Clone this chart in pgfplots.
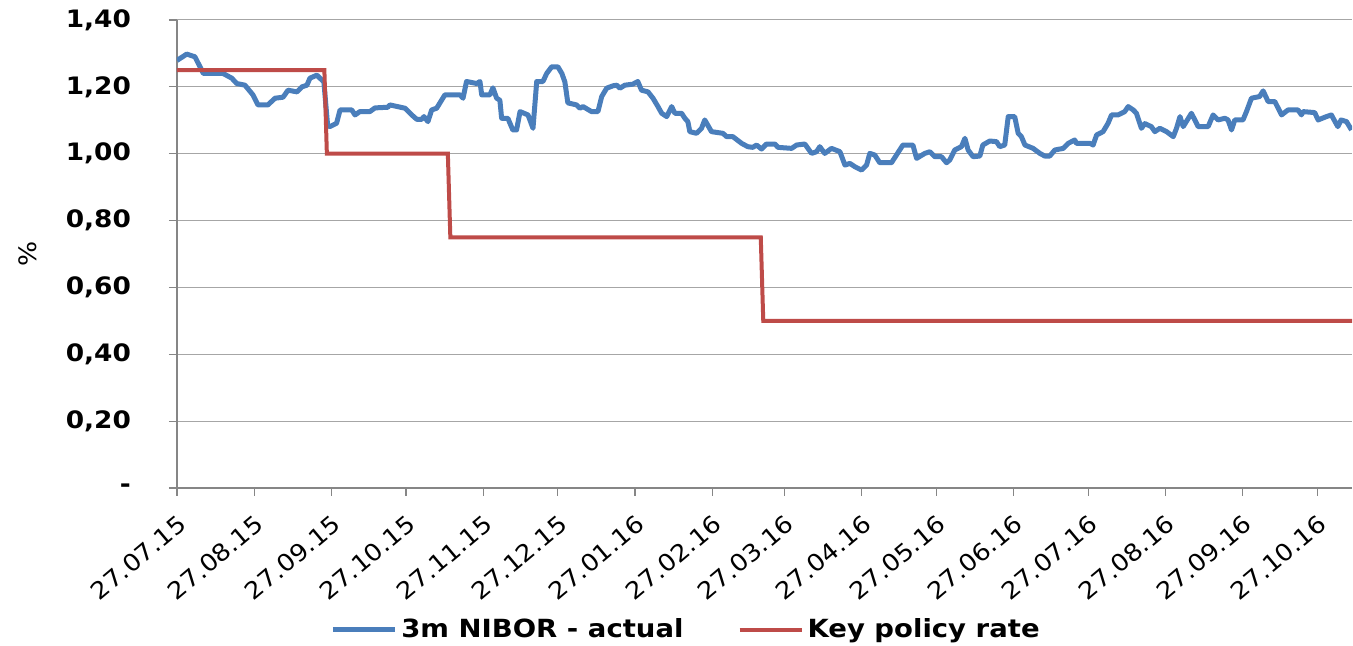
\documentclass[border=0pt]{standalone}
\usepackage{pgfplots}
\pgfplotsset{compat=1.18}
\usepackage{fontspec}
\setmainfont[FakeStretch=1.1]{DejaVu Sans}
\definecolor{nibor}{HTML}{4A7EBB}
\definecolor{keyrate}{HTML}{BE4B48}
\definecolor{gridc}{HTML}{A6A6A6}
\definecolor{axc}{HTML}{868686}
\begin{document}
\begin{tikzpicture}
\path[use as bounding box] (-88.5pt,-79pt) rectangle (588pt,244pt);
\begin{axis}[
  at={(0,0)}, anchor=south west,
  scale only axis, width=587.5pt, height=234pt,
  xmin=0, xmax=472, ymin=0, ymax=1.4,
  axis x line*=bottom, axis y line*=left,
  axis line style={axc, line width=0.6pt},
  tick align=outside, major tick length=4pt,
  tick style={axc, line width=0.6pt},
  xtick={0,31,62,92,123,153,184,215,244,275,305,336,366,397,428,458},
  xticklabels={27.07.15,27.08.15,27.09.15,27.10.15,27.11.15,27.12.15,27.01.16,27.02.16,27.03.16,27.04.16,27.05.16,27.06.16,27.07.16,27.08.16,27.09.16,27.10.16},
  xticklabel style={font=\fontsize{11.8}{14}\selectfont, xshift=5.5pt, yshift=-10pt, rotate=40, anchor=east},
  ytick={0,0.2,0.4,0.6,0.8,1.0,1.2,1.4},
  yticklabels={-,{0,20},{0,40},{0,60},{0,80},{1,00},{1,20},{1,40}},
  yticklabel style={font=\bfseries\fontsize{12}{14}\selectfont, anchor=east, xshift=-15.5pt},
  ymajorgrids, grid style={gridc, line width=0.5pt},
  ylabel={\%},
  ylabel style={font=\fontsize{12}{14}\selectfont, at={(axis description cs:-0.127,0.5)}, anchor=center},
  legend columns=2,
  legend style={draw=none, fill=none, at={(axis description cs:0.434,-0.303)}, anchor=center,
    font=\bfseries\fontsize{12.5}{15}\selectfont,
    /tikz/every even column/.append style={column sep=25pt}},
  legend image code/.code={\draw[#1] (0pt,0pt) -- (31pt,0pt);},
]
\addplot[nibor, line width=2.5pt, line join=round] coordinates {
(0,1.279)(3.9,1.298)(7.2,1.29)(10.6,1.24)(18.5,1.24)(22.0,1.226)(24.0,1.21)(27.3,1.205)
(30.5,1.176)(32.5,1.146)(36.5,1.146)(39.4,1.166)(42.6,1.169)(44.6,1.19)(48.2,1.185)
(50.2,1.20)(52.2,1.205)(53.4,1.226)(56.2,1.235)(57.4,1.226)(59.0,1.215)(60.5,1.085)
(61.4,1.081)(64.1,1.091)(65.5,1.131)(70.2,1.131)(71.5,1.116)(73.5,1.126)(77.5,1.126)
(79.5,1.137)(84.7,1.139)(85.5,1.146)(91.6,1.136)(94.3,1.116)(96.3,1.103)(98.3,1.103)
(99.2,1.111)(100.8,1.096)(102.3,1.131)(104.3,1.136)(107.6,1.176)(113.7,1.176)(114.9,1.166)
(116.3,1.216)(120.4,1.21)(121.7,1.216)(122.4,1.176)(125.7,1.176)(126.9,1.197)(128.4,1.166)
(129.7,1.16)(130.4,1.106)(132.9,1.106)(134.9,1.071)(136.4,1.071)(137.8,1.126)(141.0,1.116)
(143.0,1.076)(144.5,1.216)(147.0,1.216)(148.5,1.24)(150.5,1.26)(153.0,1.26)(154.6,1.24)
(155.8,1.215)(157.0,1.152)(160.5,1.146)(161.8,1.136)(163.1,1.141)(166.5,1.126)(169.1,1.126)
(170.6,1.171)(172.6,1.196)(175.1,1.203)(176.6,1.205)(177.9,1.196)(179.9,1.205)(183.1,1.208)
(185.1,1.216)(186.6,1.19)(189.2,1.185)(191.2,1.166)(193.2,1.141)(194.7,1.121)(196.7,1.111)
(198.7,1.141)(200.0,1.121)(202.7,1.121)(204.0,1.106)(205.2,1.096)(206.0,1.066)(208.7,1.061)
(210.7,1.076)(212.0,1.101)(214.7,1.066)(219.3,1.061)(220.8,1.051)(223.3,1.051)(226.8,1.031)
(229.3,1.021)(231.3,1.019)(232.8,1.026)(234.8,1.014)(236.8,1.029)(240.2,1.029)(241.4,1.019)
(246.9,1.016)(248.9,1.026)(252.2,1.029)(254.9,1.001)(256.9,1.006)(258.2,1.021)(260.2,1.001)
(262.9,1.016)(266.3,1.006)(268.3,0.966)(270.3,0.971)(272.3,0.961)(275.0,0.951)(277.0,0.966)
(278.3,1.001)(280.3,0.996)(282.3,0.973)(287.0,0.973)(289.0,0.996)(291.6,1.026)(295.6,1.026)
(297.1,0.986)(300.4,1.001)(302.4,1.006)(304.4,0.991)(307.1,0.991)(309.1,0.973)(310.4,0.981)
(312.4,1.011)(315.1,1.021)(316.5,1.046)(317.8,1.011)(319.8,0.991)(322.5,0.993)(323.7,1.026)
(326.5,1.038)(329.2,1.036)(330.5,1.021)(332.5,1.026)(333.9,1.111)(336.5,1.111)(337.9,1.061)
(339.2,1.051)(340.6,1.026)(343.9,1.016)(346.6,1.001)(348.6,0.993)(350.6,0.993)(352.6,1.011)
(356.0,1.016)(358.0,1.031)(360.6,1.041)(361.3,1.031)(366.7,1.031)(368.0,1.026)(369.4,1.056)
(372.0,1.066)(374.0,1.091)(375.4,1.116)(378.0,1.116)(379.4,1.121)(380.7,1.126)(382.1,1.141)
(384.1,1.131)(385.4,1.121)(387.4,1.076)(388.8,1.09)(390.8,1.083)(391.4,1.081)(392.8,1.066)
(394.8,1.076)(397.5,1.066)(400.2,1.051)(401.5,1.076)(402.9,1.111)(404.2,1.081)(407.5,1.121)
(410.2,1.081)(414.2,1.081)(416.2,1.116)(418.2,1.101)(420.9,1.106)(422.2,1.101)(423.6,1.071)
(424.9,1.101)(428.2,1.101)(429.6,1.126)(431.6,1.166)(434.9,1.171)(436.3,1.188)(438.3,1.156)
(441.0,1.156)(443.7,1.116)(446.3,1.131)(450.3,1.131)(451.7,1.116)(452.3,1.126)(457.0,1.123)
(458.4,1.101)(461.7,1.111)(463.7,1.116)(466.3,1.081)(467.6,1.101)(469.8,1.096)(471.8,1.071)
};
\addlegendentry{3m NIBOR - actual}
\addplot[keyrate, line width=2pt] coordinates {
(0,1.25)(59.2,1.25)(60.2,1.00)(108.8,1.00)(109.8,0.75)(234.5,0.75)(235.5,0.50)(472,0.50)
};
\addlegendentry{Key policy rate}
\end{axis}
\end{tikzpicture}
\end{document}
